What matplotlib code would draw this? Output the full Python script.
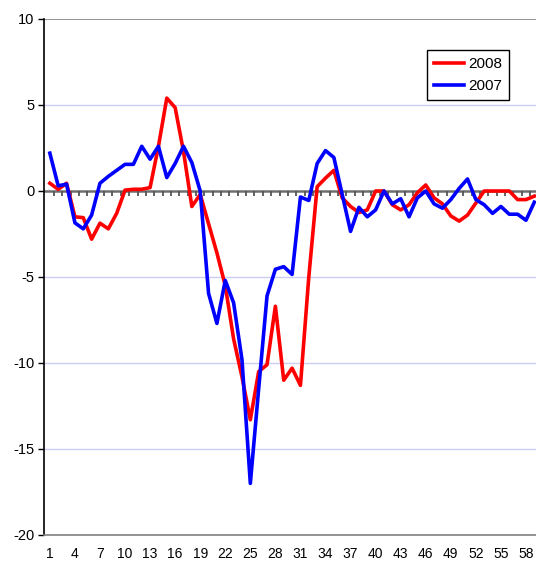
import numpy as np
import matplotlib
matplotlib.use("Agg")
import matplotlib.pyplot as plt

plt.rcParams['font.family'] = ['Liberation Sans', 'DejaVu Sans']
plt.rcParams['axes.unicode_minus'] = False

weeks = list(range(1, 60))

vals_2008 = [0.45, 0.1, 0.45, -1.5, -1.55, -2.8, -1.87, -2.2, -1.3, 0.05,
             0.1, 0.1, 0.2, 2.6, 5.4, 4.85, 2.3, -0.9, -0.2, -1.9,
             -3.6, -5.5, -8.6, -10.8, -13.3, -10.5, -10.1, -6.7, -11.0, -10.3,
             -11.3, -5.0, 0.25, 0.75, 1.2, -0.4, -0.9, -1.25, -1.1, 0.0,
             0.0, -0.8, -1.1, -0.8, -0.1, 0.35, -0.4, -0.75, -1.45, -1.75,
             -1.4, -0.7, 0.0, 0.0, 0.0, 0.0, -0.5, -0.5, -0.3]

vals_2007 = [2.2, 0.3, 0.4, -1.85, -2.2, -1.4, 0.45, 0.85, 1.2, 1.55,
             1.55, 2.6, 1.85, 2.6, 0.78, 1.6, 2.6, 1.65, 0.0, -5.95,
             -7.7, -5.2, -6.5, -9.8, -17.0, -11.5, -6.1, -4.55, -4.4, -4.85,
             -0.35, -0.55, 1.6, 2.35, 1.95, -0.2, -2.35, -0.95, -1.5, -1.1,
             0.0, -0.75, -0.45, -1.5, -0.4, 0.0, -0.75, -1.0, -0.5, 0.15,
             0.7, -0.5, -0.8, -1.3, -0.9, -1.35, -1.35, -1.7, -0.65]

xtick_labels = list(range(1, 60, 3))
yticks = [-20, -15, -10, -5, 0, 5, 10]

fig = plt.figure(figsize=(5.36, 5.63), dpi=100)
ax = fig.add_axes([44 / 536, 28 / 563, 1 - 44 / 536, 516 / 563])

# light grid lines
for y in [-15, -10, -5, 5]:
    ax.axhline(y, color='#ccccf5', lw=1, zorder=0)
ax.axhline(10, color='#808080', lw=1.2, zorder=0)

# zero axis with small category ticks
ax.axhline(0, color='#6e6e6e', lw=1.8, zorder=1)
ax.vlines([w + 0.5 for w in weeks], -0.3, 0, color='#555555', lw=1.3, zorder=1)

ax.plot(weeks, vals_2008, color='#ff0000', lw=2.6, label='2008', zorder=3)
ax.plot(weeks, vals_2007, color='#0000ff', lw=2.6, label='2007', zorder=4)

ax.set_xlim(0.3, 59.2)
ax.set_ylim(-20, 10)
ax.set_yticks(yticks)
ax.set_xticks(xtick_labels)
ax.tick_params(axis='y', direction='out', length=4, width=1, labelsize=10.5, pad=3)
ax.tick_params(axis='x', length=0, labelsize=10, pad=9)

for s in ['top', 'right']:
    ax.spines[s].set_visible(False)
ax.spines['left'].set_color('black')
ax.spines['left'].set_linewidth(1.2)
ax.spines['bottom'].set_color('#808080')
ax.spines['bottom'].set_linewidth(1.2)

leg = ax.legend(loc='upper right', bbox_to_anchor=(509 / 536, 1 - 50 / 563),
                bbox_transform=fig.transFigure, fontsize=11, frameon=True,
                fancybox=False, handlelength=2.0, labelspacing=0.55,
                borderpad=0.45, handletextpad=0.25, borderaxespad=0)
leg.get_frame().set_edgecolor('black')
leg.get_frame().set_linewidth(1)
leg.get_frame().set_alpha(1)

fig.savefig('out.png', dpi=100)
